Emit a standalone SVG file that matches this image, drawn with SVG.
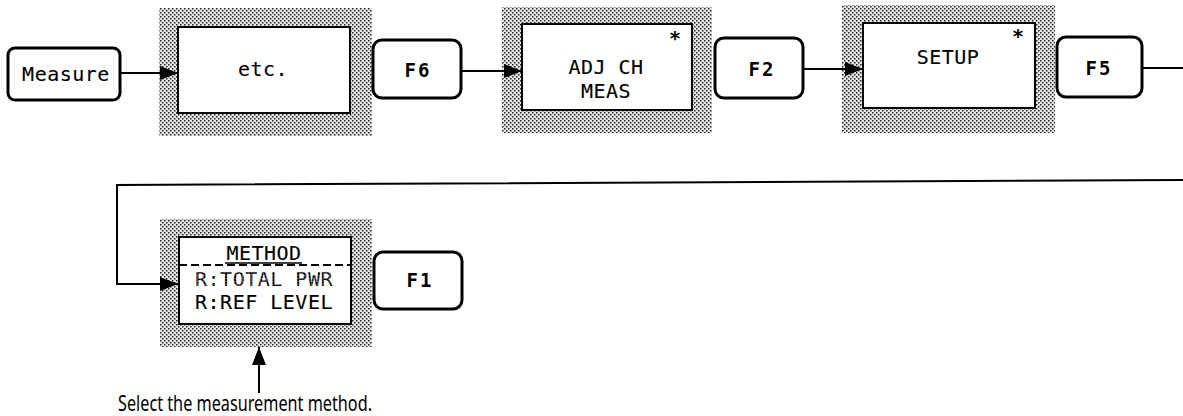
<svg xmlns="http://www.w3.org/2000/svg" width="1183" height="416" viewBox="0 0 1183 416">
  <style>
    .key { fill: #fff; stroke: #000; stroke-width: 3; }
    .inner { fill: #fff; stroke: #000; stroke-width: 2; }
    .shade { fill: url(#dots); stroke: none; }
    .mono { font-family: "DejaVu Sans Mono", "Liberation Mono", monospace; font-size: 20px; letter-spacing: 0.5px; fill: #000; stroke: #000; stroke-width: 0.12; text-anchor: middle; }
    .fk { font-family: "DejaVu Sans Mono", "Liberation Mono", monospace; font-size: 19px; font-weight: bold; letter-spacing: 2px; fill: #000; text-anchor: middle; }
    .star { font-family: "DejaVu Sans Mono", monospace; font-size: 20px; font-weight: bold; fill: #000; text-anchor: middle; }
    .conn { fill: none; stroke: #000; stroke-width: 2; }
    .note { font-family: "Noto Sans", "Open Sans", sans-serif; font-size: 22px; fill: #000; }
  </style>
  <defs>
    <pattern id="dots" width="4" height="4" patternUnits="userSpaceOnUse">
      <rect width="4" height="4" fill="#e6e6e6"/>
      <rect x="0" y="0" width="1.5" height="1.5" fill="#222"/>
      <rect x="2" y="2" width="1.5" height="1.5" fill="#222"/>
    </pattern>
    <pattern id="tdots" width="3" height="3" patternUnits="userSpaceOnUse">
      <rect width="3" height="3" fill="#444"/>
      <rect x="0" y="0" width="2" height="2" fill="#000"/>
    </pattern>
    <marker id="arr" markerUnits="userSpaceOnUse" markerWidth="18" markerHeight="14" refX="18" refY="7" orient="auto">
      <path d="M0,0 L18,7 L0,14 z" fill="#000"/>
    </marker>
  </defs>

  <g id="measure">
    <rect class="key" x="8" y="48" width="112" height="52" rx="7"/>
    <text class="mono" x="66" y="81">Measure</text>
  </g>

  <g id="etc">
    <rect class="shade" x="159" y="8" width="213" height="128"/>
    <rect class="inner" x="178" y="27" width="172" height="86"/>
    <text class="mono" x="263" y="76">etc.</text>
  </g>

  <g id="f6">
    <rect class="key" x="373" y="40" width="88" height="58" rx="9"/>
    <text class="fk" x="418" y="77">F6</text>
  </g>

  <g id="adjch">
    <rect class="shade" x="502" y="7" width="210" height="126"/>
    <rect class="inner" x="522" y="24" width="170" height="86"/>
    <text class="mono" x="606" y="74">ADJ CH</text>
    <text class="mono" x="606" y="98">MEAS</text>
    <text class="star" x="675" y="45">*</text>
  </g>

  <g id="f2">
    <rect class="key" x="715" y="38" width="88" height="60" rx="9"/>
    <text class="fk" x="762" y="76">F2</text>
  </g>

  <g id="setup">
    <rect class="shade" x="842" y="5" width="213" height="128"/>
    <rect class="inner" x="863" y="23" width="172" height="85"/>
    <text class="mono" x="948" y="64">SETUP</text>
    <text class="star" x="1018" y="43">*</text>
  </g>

  <g id="f5">
    <rect class="key" x="1057" y="37" width="85" height="60" rx="9"/>
    <text class="fk" x="1099" y="75">F5</text>
  </g>

  <g id="method">
    <rect class="shade" x="160" y="219" width="212" height="128"/>
    <rect class="inner" x="179" y="237" width="172" height="87"/>
    <text class="mono" x="264" y="260">METHOD</text>
    <line x1="225" y1="263" x2="302" y2="263" stroke="#000" stroke-width="1.5"/>
    <line x1="179" y1="265" x2="351" y2="265" stroke="#000" stroke-width="2" stroke-dasharray="8 4"/>
    <text class="mono" x="264" y="286" style="fill:url(#tdots);stroke:none">R:TOTAL PWR</text>
    <text class="mono" x="264" y="309">R:REF LEVEL</text>
  </g>

  <g id="f1">
    <rect class="key" x="374" y="252" width="88" height="57" rx="9"/>
    <text class="fk" x="420" y="287">F1</text>
  </g>

  <g id="note">
    <text class="note" x="118" y="411" textLength="254" lengthAdjust="spacingAndGlyphs">Select the measurement method.</text>
  </g>

  <g id="connectors">
    <line class="conn" x1="120" y1="73" x2="178" y2="73" marker-end="url(#arr)"/>
    <line class="conn" x1="461" y1="71" x2="522" y2="71" marker-end="url(#arr)"/>
    <line class="conn" x1="803" y1="69" x2="863" y2="69" marker-end="url(#arr)"/>
    <line class="conn" x1="1142" y1="68" x2="1183" y2="68"/>
    <polyline class="conn" points="1183,180 117,185 117,284 178,284" marker-end="url(#arr)"/>
    <line class="conn" x1="259" y1="393" x2="259" y2="347" marker-end="url(#arr)"/>
  </g>
</svg>
